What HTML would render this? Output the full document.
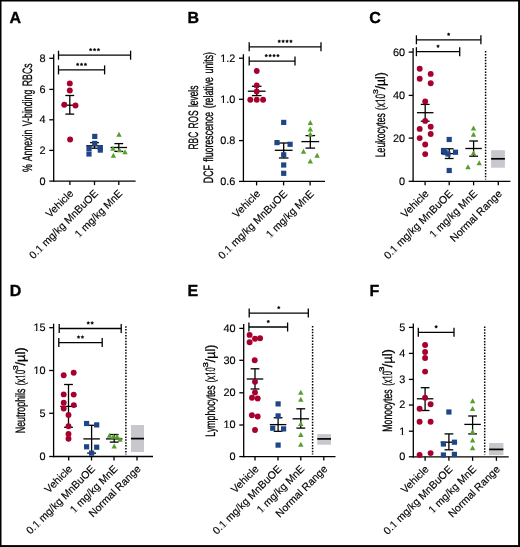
<!DOCTYPE html>
<html><head><meta charset="utf-8"><style>
html,body{margin:0;padding:0;background:#fff;}
svg{display:block;will-change:transform;}
text{font-family:"Liberation Sans",sans-serif;fill:#000;text-rendering:geometricPrecision;}
</style></head><body>
<svg width="520" height="547" viewBox="0 0 520 547">
<rect x="0" y="0" width="520" height="547" fill="#fff"/>
<line x1="53.70" y1="54.20" x2="53.70" y2="181.75" stroke="#000" stroke-width="1.3" />
<line x1="53.05" y1="181.10" x2="135.60" y2="181.10" stroke="#000" stroke-width="1.3" />
<line x1="49.30" y1="181.10" x2="53.70" y2="181.10" stroke="#000" stroke-width="1.3" />
<text x="45.60" y="184.55" font-size="10.9" text-anchor="end" stroke="#000" stroke-width="0.15" >0</text>
<line x1="49.30" y1="150.40" x2="53.70" y2="150.40" stroke="#000" stroke-width="1.3" />
<text x="45.60" y="153.85" font-size="10.9" text-anchor="end" stroke="#000" stroke-width="0.15" >2</text>
<line x1="49.30" y1="119.80" x2="53.70" y2="119.80" stroke="#000" stroke-width="1.3" />
<text x="45.60" y="123.25" font-size="10.9" text-anchor="end" stroke="#000" stroke-width="0.15" >4</text>
<line x1="49.30" y1="89.40" x2="53.70" y2="89.40" stroke="#000" stroke-width="1.3" />
<text x="45.60" y="92.85" font-size="10.9" text-anchor="end" stroke="#000" stroke-width="0.15" >6</text>
<line x1="49.30" y1="58.30" x2="53.70" y2="58.30" stroke="#000" stroke-width="1.3" />
<text x="45.60" y="61.75" font-size="10.9" text-anchor="end" stroke="#000" stroke-width="0.15" >8</text>
<line x1="69.90" y1="181.10" x2="69.90" y2="185.10" stroke="#000" stroke-width="1.3" />
<line x1="94.50" y1="181.10" x2="94.50" y2="185.10" stroke="#000" stroke-width="1.3" />
<line x1="118.80" y1="181.10" x2="118.80" y2="185.10" stroke="#000" stroke-width="1.3" />
<text x="0.00" y="0.00" font-size="10.6" text-anchor="end" transform="translate(74.20,194.10) rotate(-45)" stroke="#000" stroke-width="0.15" >Vehicle</text>
<text x="0.00" y="0.00" font-size="10.6" text-anchor="end" transform="translate(98.80,194.10) rotate(-45)" stroke="#000" stroke-width="0.15" >0.1 mg/kg MnBuOE</text>
<g transform="translate(98.80,194.10) rotate(-45)"><rect x="-83.09" y="-0.91" width="2.03" height="1.11" fill="#fff"/><rect x="-79.99" y="-0.91" width="1.93" height="1.11" fill="#fff"/></g>
<text x="0.00" y="0.00" font-size="10.6" text-anchor="end" transform="translate(123.10,194.10) rotate(-45)" stroke="#000" stroke-width="0.15" >1 mg/kg MnE</text>
<g transform="translate(123.10,194.10) rotate(-45)"><rect x="-61.88" y="-0.91" width="2.03" height="1.11" fill="#fff"/><rect x="-58.78" y="-0.91" width="1.93" height="1.11" fill="#fff"/></g>
<line x1="58.50" y1="55.20" x2="130.60" y2="55.20" stroke="#000" stroke-width="1.3" />
<line x1="58.50" y1="50.70" x2="58.50" y2="59.70" stroke="#000" stroke-width="1.3" />
<line x1="130.60" y1="50.70" x2="130.60" y2="59.70" stroke="#000" stroke-width="1.3" />
<polygon points="90.65,48.15 91.15,49.01 92.12,49.22 91.46,49.96 91.56,50.95 90.65,50.55 89.74,50.95 89.84,49.96 89.18,49.22 90.15,49.01" fill="#000" stroke="#000" stroke-width="0.4" stroke-linejoin="round"/>
<polygon points="94.55,48.15 95.05,49.01 96.02,49.22 95.36,49.96 95.46,50.95 94.55,50.55 93.64,50.95 93.74,49.96 93.08,49.22 94.05,49.01" fill="#000" stroke="#000" stroke-width="0.4" stroke-linejoin="round"/>
<polygon points="98.45,48.15 98.95,49.01 99.92,49.22 99.26,49.96 99.36,50.95 98.45,50.55 97.54,50.95 97.64,49.96 96.98,49.22 97.95,49.01" fill="#000" stroke="#000" stroke-width="0.4" stroke-linejoin="round"/>
<line x1="58.50" y1="69.90" x2="104.60" y2="69.90" stroke="#000" stroke-width="1.3" />
<line x1="58.50" y1="65.40" x2="58.50" y2="74.40" stroke="#000" stroke-width="1.3" />
<line x1="104.60" y1="65.40" x2="104.60" y2="74.40" stroke="#000" stroke-width="1.3" />
<polygon points="77.65,62.85 78.15,63.71 79.12,63.92 78.46,64.66 78.56,65.65 77.65,65.25 76.74,65.65 76.84,64.66 76.18,63.92 77.15,63.71" fill="#000" stroke="#000" stroke-width="0.4" stroke-linejoin="round"/>
<polygon points="81.55,62.85 82.05,63.71 83.02,63.92 82.36,64.66 82.46,65.65 81.55,65.25 80.64,65.65 80.74,64.66 80.08,63.92 81.05,63.71" fill="#000" stroke="#000" stroke-width="0.4" stroke-linejoin="round"/>
<polygon points="85.45,62.85 85.95,63.71 86.92,63.92 86.26,64.66 86.36,65.65 85.45,65.25 84.54,65.65 84.64,64.66 83.98,63.92 84.95,63.71" fill="#000" stroke="#000" stroke-width="0.4" stroke-linejoin="round"/>
<text x="0" y="0" font-size="13.6" text-anchor="middle" textLength="108.70" lengthAdjust="spacingAndGlyphs" word-spacing="1.6" stroke="#000" stroke-width="0.3" transform="translate(31.70,117.75) rotate(-90)">% Annexin V-binding RBCs</text>
<line x1="69.80" y1="95.50" x2="69.80" y2="114.10" stroke="#000" stroke-width="1.3" />
<line x1="65.40" y1="95.50" x2="74.20" y2="95.50" stroke="#000" stroke-width="1.3" />
<line x1="65.40" y1="114.10" x2="74.20" y2="114.10" stroke="#000" stroke-width="1.3" />
<line x1="61.55" y1="105.20" x2="78.05" y2="105.20" stroke="#000" stroke-width="1.3" />
<line x1="94.50" y1="142.60" x2="94.50" y2="148.20" stroke="#000" stroke-width="1.3" />
<line x1="90.10" y1="142.60" x2="98.90" y2="142.60" stroke="#000" stroke-width="1.3" />
<line x1="90.10" y1="148.20" x2="98.90" y2="148.20" stroke="#000" stroke-width="1.3" />
<line x1="86.25" y1="145.80" x2="102.75" y2="145.80" stroke="#000" stroke-width="1.3" />
<line x1="118.80" y1="143.60" x2="118.80" y2="151.40" stroke="#000" stroke-width="1.3" />
<line x1="114.40" y1="143.60" x2="123.20" y2="143.60" stroke="#000" stroke-width="1.3" />
<line x1="114.40" y1="151.40" x2="123.20" y2="151.40" stroke="#000" stroke-width="1.3" />
<line x1="110.55" y1="147.50" x2="127.05" y2="147.50" stroke="#000" stroke-width="1.3" />
<circle cx="69.80" cy="83.40" r="2.95" fill="#a8002e"/>
<circle cx="69.80" cy="90.50" r="2.95" fill="#a8002e"/>
<circle cx="64.30" cy="104.80" r="2.95" fill="#a8002e"/>
<circle cx="75.50" cy="105.50" r="2.95" fill="#a8002e"/>
<circle cx="70.10" cy="139.50" r="2.95" fill="#a8002e"/>
<rect x="92.15" y="133.80" width="5.2" height="5.2" fill="#1f4588"/>
<rect x="92.15" y="140.80" width="5.2" height="5.2" fill="#1f4588"/>
<rect x="86.40" y="145.90" width="5.2" height="5.2" fill="#1f4588"/>
<rect x="86.40" y="151.40" width="5.2" height="5.2" fill="#1f4588"/>
<rect x="97.70" y="145.10" width="5.2" height="5.2" fill="#1f4588"/>
<rect x="97.70" y="147.50" width="5.2" height="5.2" fill="#1f4588"/>
<path d="M119.00 131.75L121.70 136.75L116.30 136.75Z" fill="#55a02a"/>
<path d="M113.00 145.75L115.70 150.75L110.30 150.75Z" fill="#55a02a"/>
<path d="M119.50 147.25L122.20 152.25L116.80 152.25Z" fill="#55a02a"/>
<path d="M125.00 149.25L127.70 154.25L122.30 154.25Z" fill="#55a02a"/>
<path d="M113.40 152.75L116.10 157.75L110.70 157.75Z" fill="#55a02a"/>
<line x1="243.40" y1="54.20" x2="243.40" y2="182.05" stroke="#000" stroke-width="1.3" />
<line x1="242.75" y1="181.40" x2="325.00" y2="181.40" stroke="#000" stroke-width="1.3" />
<line x1="239.00" y1="181.40" x2="243.40" y2="181.40" stroke="#000" stroke-width="1.3" />
<text x="235.30" y="184.85" font-size="10.9" text-anchor="end" stroke="#000" stroke-width="0.15" >0.6</text>
<line x1="239.00" y1="140.60" x2="243.40" y2="140.60" stroke="#000" stroke-width="1.3" />
<text x="235.30" y="144.05" font-size="10.9" text-anchor="end" stroke="#000" stroke-width="0.15" >0.8</text>
<line x1="239.00" y1="99.30" x2="243.40" y2="99.30" stroke="#000" stroke-width="1.3" />
<text x="235.30" y="102.75" font-size="10.9" text-anchor="end" stroke="#000" stroke-width="0.15" >1.0</text>
<rect x="220.73" y="101.82" width="2.09" height="1.14" fill="#fff"/><rect x="223.92" y="101.82" width="1.98" height="1.14" fill="#fff"/>
<line x1="239.00" y1="58.20" x2="243.40" y2="58.20" stroke="#000" stroke-width="1.3" />
<text x="235.30" y="61.65" font-size="10.9" text-anchor="end" stroke="#000" stroke-width="0.15" >1.2</text>
<rect x="220.73" y="60.72" width="2.09" height="1.14" fill="#fff"/><rect x="223.92" y="60.72" width="1.98" height="1.14" fill="#fff"/>
<line x1="256.60" y1="181.40" x2="256.60" y2="185.40" stroke="#000" stroke-width="1.3" />
<line x1="283.60" y1="181.40" x2="283.60" y2="185.40" stroke="#000" stroke-width="1.3" />
<line x1="310.10" y1="181.40" x2="310.10" y2="185.40" stroke="#000" stroke-width="1.3" />
<text x="0.00" y="0.00" font-size="10.6" text-anchor="end" transform="translate(260.90,194.40) rotate(-45)" stroke="#000" stroke-width="0.15" >Vehicle</text>
<text x="0.00" y="0.00" font-size="10.6" text-anchor="end" transform="translate(287.90,194.40) rotate(-45)" stroke="#000" stroke-width="0.15" >0.1 mg/kg MnBuOE</text>
<g transform="translate(287.90,194.40) rotate(-45)"><rect x="-83.09" y="-0.91" width="2.03" height="1.11" fill="#fff"/><rect x="-79.99" y="-0.91" width="1.93" height="1.11" fill="#fff"/></g>
<text x="0.00" y="0.00" font-size="10.6" text-anchor="end" transform="translate(314.40,194.40) rotate(-45)" stroke="#000" stroke-width="0.15" >1 mg/kg MnE</text>
<g transform="translate(314.40,194.40) rotate(-45)"><rect x="-61.88" y="-0.91" width="2.03" height="1.11" fill="#fff"/><rect x="-58.78" y="-0.91" width="1.93" height="1.11" fill="#fff"/></g>
<line x1="249.20" y1="46.80" x2="321.00" y2="46.80" stroke="#000" stroke-width="1.3" />
<line x1="249.20" y1="42.30" x2="249.20" y2="51.30" stroke="#000" stroke-width="1.3" />
<line x1="321.00" y1="42.30" x2="321.00" y2="51.30" stroke="#000" stroke-width="1.3" />
<polygon points="279.25,39.75 279.75,40.61 280.72,40.82 280.06,41.56 280.16,42.55 279.25,42.15 278.34,42.55 278.44,41.56 277.78,40.82 278.75,40.61" fill="#000" stroke="#000" stroke-width="0.4" stroke-linejoin="round"/>
<polygon points="283.15,39.75 283.65,40.61 284.62,40.82 283.96,41.56 284.06,42.55 283.15,42.15 282.24,42.55 282.34,41.56 281.68,40.82 282.65,40.61" fill="#000" stroke="#000" stroke-width="0.4" stroke-linejoin="round"/>
<polygon points="287.05,39.75 287.55,40.61 288.52,40.82 287.86,41.56 287.96,42.55 287.05,42.15 286.14,42.55 286.24,41.56 285.58,40.82 286.55,40.61" fill="#000" stroke="#000" stroke-width="0.4" stroke-linejoin="round"/>
<polygon points="290.95,39.75 291.45,40.61 292.42,40.82 291.76,41.56 291.86,42.55 290.95,42.15 290.04,42.55 290.14,41.56 289.48,40.82 290.45,40.61" fill="#000" stroke="#000" stroke-width="0.4" stroke-linejoin="round"/>
<line x1="249.20" y1="61.10" x2="295.00" y2="61.10" stroke="#000" stroke-width="1.3" />
<line x1="249.20" y1="56.60" x2="249.20" y2="65.60" stroke="#000" stroke-width="1.3" />
<line x1="295.00" y1="56.60" x2="295.00" y2="65.60" stroke="#000" stroke-width="1.3" />
<polygon points="266.25,54.05 266.75,54.91 267.72,55.12 267.06,55.86 267.16,56.85 266.25,56.45 265.34,56.85 265.44,55.86 264.78,55.12 265.75,54.91" fill="#000" stroke="#000" stroke-width="0.4" stroke-linejoin="round"/>
<polygon points="270.15,54.05 270.65,54.91 271.62,55.12 270.96,55.86 271.06,56.85 270.15,56.45 269.24,56.85 269.34,55.86 268.68,55.12 269.65,54.91" fill="#000" stroke="#000" stroke-width="0.4" stroke-linejoin="round"/>
<polygon points="274.05,54.05 274.55,54.91 275.52,55.12 274.86,55.86 274.96,56.85 274.05,56.45 273.14,56.85 273.24,55.86 272.58,55.12 273.55,54.91" fill="#000" stroke="#000" stroke-width="0.4" stroke-linejoin="round"/>
<polygon points="277.95,54.05 278.45,54.91 279.42,55.12 278.76,55.86 278.86,56.85 277.95,56.45 277.04,56.85 277.14,55.86 276.48,55.12 277.45,54.91" fill="#000" stroke="#000" stroke-width="0.4" stroke-linejoin="round"/>
<text x="0" y="0" font-size="13.6" text-anchor="middle" textLength="63.90" lengthAdjust="spacingAndGlyphs" word-spacing="1.6" stroke="#000" stroke-width="0.3" transform="translate(198.00,117.55) rotate(-90)">RBC ROS levels</text>
<text x="0" y="0" font-size="13.6" text-anchor="middle" textLength="131.20" lengthAdjust="spacingAndGlyphs" word-spacing="1.6" stroke="#000" stroke-width="0.3" transform="translate(213.00,117.60) rotate(-90)">DCF fluorescence (relative units)</text>
<line x1="256.70" y1="86.30" x2="256.70" y2="95.60" stroke="#000" stroke-width="1.3" />
<line x1="251.90" y1="86.30" x2="261.50" y2="86.30" stroke="#000" stroke-width="1.3" />
<line x1="251.90" y1="95.60" x2="261.50" y2="95.60" stroke="#000" stroke-width="1.3" />
<line x1="247.80" y1="91.20" x2="265.60" y2="91.20" stroke="#000" stroke-width="1.3" />
<line x1="283.70" y1="143.00" x2="283.70" y2="158.00" stroke="#000" stroke-width="1.3" />
<line x1="278.90" y1="143.00" x2="288.50" y2="143.00" stroke="#000" stroke-width="1.3" />
<line x1="278.90" y1="158.00" x2="288.50" y2="158.00" stroke="#000" stroke-width="1.3" />
<line x1="274.80" y1="150.30" x2="292.60" y2="150.30" stroke="#000" stroke-width="1.3" />
<line x1="310.30" y1="135.60" x2="310.30" y2="148.10" stroke="#000" stroke-width="1.3" />
<line x1="305.50" y1="135.60" x2="315.10" y2="135.60" stroke="#000" stroke-width="1.3" />
<line x1="305.50" y1="148.10" x2="315.10" y2="148.10" stroke="#000" stroke-width="1.3" />
<line x1="301.40" y1="141.60" x2="319.20" y2="141.60" stroke="#000" stroke-width="1.3" />
<circle cx="256.70" cy="71.00" r="2.95" fill="#a8002e"/>
<circle cx="256.70" cy="85.40" r="2.95" fill="#a8002e"/>
<circle cx="256.70" cy="91.50" r="2.95" fill="#a8002e"/>
<circle cx="250.30" cy="99.70" r="2.95" fill="#a8002e"/>
<circle cx="256.70" cy="99.70" r="2.95" fill="#a8002e"/>
<circle cx="263.10" cy="99.70" r="2.95" fill="#a8002e"/>
<rect x="281.10" y="119.80" width="5.2" height="5.2" fill="#1f4588"/>
<rect x="274.40" y="140.00" width="5.2" height="5.2" fill="#1f4588"/>
<rect x="287.50" y="141.70" width="5.2" height="5.2" fill="#1f4588"/>
<rect x="281.10" y="152.20" width="5.2" height="5.2" fill="#1f4588"/>
<rect x="281.10" y="162.40" width="5.2" height="5.2" fill="#1f4588"/>
<rect x="281.10" y="170.70" width="5.2" height="5.2" fill="#1f4588"/>
<path d="M310.30 120.05L313.00 125.05L307.60 125.05Z" fill="#55a02a"/>
<path d="M310.30 126.45L313.00 131.45L307.60 131.45Z" fill="#55a02a"/>
<path d="M310.30 131.55L313.00 136.55L307.60 136.55Z" fill="#55a02a"/>
<path d="M303.50 148.85L306.20 153.85L300.80 153.85Z" fill="#55a02a"/>
<path d="M317.10 152.65L319.80 157.65L314.40 157.65Z" fill="#55a02a"/>
<path d="M310.30 158.45L313.00 163.45L307.60 163.45Z" fill="#55a02a"/>
<line x1="413.10" y1="47.90" x2="413.10" y2="181.95" stroke="#000" stroke-width="1.3" />
<line x1="412.45" y1="181.30" x2="510.40" y2="181.30" stroke="#000" stroke-width="1.3" />
<line x1="408.70" y1="181.30" x2="413.10" y2="181.30" stroke="#000" stroke-width="1.3" />
<text x="405.00" y="184.75" font-size="10.9" text-anchor="end" stroke="#000" stroke-width="0.15" >0</text>
<line x1="408.70" y1="138.10" x2="413.10" y2="138.10" stroke="#000" stroke-width="1.3" />
<text x="405.00" y="141.55" font-size="10.9" text-anchor="end" stroke="#000" stroke-width="0.15" >20</text>
<line x1="408.70" y1="95.40" x2="413.10" y2="95.40" stroke="#000" stroke-width="1.3" />
<text x="405.00" y="98.85" font-size="10.9" text-anchor="end" stroke="#000" stroke-width="0.15" >40</text>
<line x1="408.70" y1="52.10" x2="413.10" y2="52.10" stroke="#000" stroke-width="1.3" />
<text x="405.00" y="55.55" font-size="10.9" text-anchor="end" stroke="#000" stroke-width="0.15" >60</text>
<line x1="425.10" y1="181.30" x2="425.10" y2="185.30" stroke="#000" stroke-width="1.3" />
<line x1="449.20" y1="181.30" x2="449.20" y2="185.30" stroke="#000" stroke-width="1.3" />
<line x1="473.60" y1="181.30" x2="473.60" y2="185.30" stroke="#000" stroke-width="1.3" />
<line x1="498.30" y1="181.30" x2="498.30" y2="185.30" stroke="#000" stroke-width="1.3" />
<text x="0.00" y="0.00" font-size="10.6" text-anchor="end" transform="translate(429.40,194.30) rotate(-45)" stroke="#000" stroke-width="0.15" >Vehicle</text>
<text x="0.00" y="0.00" font-size="10.6" text-anchor="end" transform="translate(453.50,194.30) rotate(-45)" stroke="#000" stroke-width="0.15" >0.1 mg/kg MnBuOE</text>
<g transform="translate(453.50,194.30) rotate(-45)"><rect x="-83.09" y="-0.91" width="2.03" height="1.11" fill="#fff"/><rect x="-79.99" y="-0.91" width="1.93" height="1.11" fill="#fff"/></g>
<text x="0.00" y="0.00" font-size="10.6" text-anchor="end" transform="translate(477.90,194.30) rotate(-45)" stroke="#000" stroke-width="0.15" >1 mg/kg MnE</text>
<g transform="translate(477.90,194.30) rotate(-45)"><rect x="-61.88" y="-0.91" width="2.03" height="1.11" fill="#fff"/><rect x="-58.78" y="-0.91" width="1.93" height="1.11" fill="#fff"/></g>
<text x="0.00" y="0.00" font-size="10.6" text-anchor="end" transform="translate(502.60,194.30) rotate(-45)" stroke="#000" stroke-width="0.15" >Normal Range</text>
<line x1="416.40" y1="39.80" x2="480.90" y2="39.80" stroke="#000" stroke-width="1.3" />
<line x1="416.40" y1="35.30" x2="416.40" y2="44.30" stroke="#000" stroke-width="1.3" />
<line x1="480.90" y1="35.30" x2="480.90" y2="44.30" stroke="#000" stroke-width="1.3" />
<polygon points="448.65,32.75 449.15,33.61 450.12,33.82 449.46,34.56 449.56,35.55 448.65,35.15 447.74,35.55 447.84,34.56 447.18,33.82 448.15,33.61" fill="#000" stroke="#000" stroke-width="0.4" stroke-linejoin="round"/>
<line x1="416.40" y1="51.70" x2="459.70" y2="51.70" stroke="#000" stroke-width="1.3" />
<line x1="416.40" y1="47.20" x2="416.40" y2="56.20" stroke="#000" stroke-width="1.3" />
<line x1="459.70" y1="47.20" x2="459.70" y2="56.20" stroke="#000" stroke-width="1.3" />
<polygon points="438.05,44.65 438.55,45.51 439.52,45.72 438.86,46.46 438.96,47.45 438.05,47.05 437.14,47.45 437.24,46.46 436.58,45.72 437.55,45.51" fill="#000" stroke="#000" stroke-width="0.4" stroke-linejoin="round"/>
<line x1="485.60" y1="51.10" x2="485.60" y2="179.40" stroke="#000" stroke-width="1.5" stroke-dasharray="1.5 1.4"/>
<rect x="491.1" y="150.2" width="13.80" height="17.50" fill="#c8c7cd"/>
<line x1="491.10" y1="158.80" x2="504.90" y2="158.80" stroke="#000" stroke-width="1.7" />
<text x="0" y="0" font-size="13.6" textLength="44.30" lengthAdjust="spacingAndGlyphs" stroke="#000" stroke-width="0.3" transform="translate(385.30,157.35) rotate(-90)">Leukocytes</text>
<text x="0" y="0" font-size="13.6" textLength="16.10" lengthAdjust="spacingAndGlyphs" stroke="#000" stroke-width="0.3" transform="translate(385.30,109.95) rotate(-90)">(x10</text>
<g transform="translate(385.30,109.95) rotate(-90)"><rect x="7.30" y="-1.23" width="1.60" height="1.53" fill="#fff"/><rect x="9.79" y="-1.23" width="1.51" height="1.53" fill="#fff"/></g>
<text x="0" y="0" font-size="6.8" textLength="4.80" lengthAdjust="spacingAndGlyphs" stroke="#000" stroke-width="0.3" transform="translate(378.00,93.95) rotate(-90)">3</text>
<text x="0" y="0" font-size="13.6" textLength="17.10" lengthAdjust="spacingAndGlyphs" stroke="#000" stroke-width="0.3" transform="translate(385.30,89.25) rotate(-90)">/µl)</text>
<line x1="425.20" y1="104.40" x2="425.20" y2="121.20" stroke="#000" stroke-width="1.3" />
<line x1="420.80" y1="104.40" x2="429.60" y2="104.40" stroke="#000" stroke-width="1.3" />
<line x1="420.80" y1="121.20" x2="429.60" y2="121.20" stroke="#000" stroke-width="1.3" />
<line x1="416.95" y1="112.70" x2="433.45" y2="112.70" stroke="#000" stroke-width="1.3" />
<line x1="449.20" y1="148.80" x2="449.20" y2="158.50" stroke="#000" stroke-width="1.3" />
<line x1="444.80" y1="148.80" x2="453.60" y2="148.80" stroke="#000" stroke-width="1.3" />
<line x1="444.80" y1="158.50" x2="453.60" y2="158.50" stroke="#000" stroke-width="1.3" />
<line x1="440.95" y1="153.60" x2="457.45" y2="153.60" stroke="#000" stroke-width="1.3" />
<line x1="473.60" y1="141.00" x2="473.60" y2="156.20" stroke="#000" stroke-width="1.3" />
<line x1="469.20" y1="141.00" x2="478.00" y2="141.00" stroke="#000" stroke-width="1.3" />
<line x1="469.20" y1="156.20" x2="478.00" y2="156.20" stroke="#000" stroke-width="1.3" />
<line x1="465.35" y1="148.50" x2="481.85" y2="148.50" stroke="#000" stroke-width="1.3" />
<circle cx="419.70" cy="68.80" r="2.95" fill="#a8002e"/>
<circle cx="419.70" cy="78.80" r="2.95" fill="#a8002e"/>
<circle cx="430.70" cy="73.90" r="2.95" fill="#a8002e"/>
<circle cx="430.70" cy="83.20" r="2.95" fill="#a8002e"/>
<circle cx="425.20" cy="101.50" r="2.95" fill="#a8002e"/>
<circle cx="425.20" cy="120.90" r="2.95" fill="#a8002e"/>
<circle cx="419.70" cy="128.90" r="2.95" fill="#a8002e"/>
<circle cx="430.70" cy="126.70" r="2.95" fill="#a8002e"/>
<circle cx="419.70" cy="138.10" r="2.95" fill="#a8002e"/>
<circle cx="430.70" cy="134.00" r="2.95" fill="#a8002e"/>
<circle cx="425.20" cy="144.50" r="2.95" fill="#a8002e"/>
<circle cx="425.20" cy="154.10" r="2.95" fill="#a8002e"/>
<rect x="446.60" y="136.90" width="5.2" height="5.2" fill="#1f4588"/>
<rect x="440.90" y="147.90" width="5.2" height="5.2" fill="#1f4588"/>
<rect x="442.40" y="149.90" width="5.2" height="5.2" fill="#1f4588"/>
<rect x="445.40" y="151.40" width="5.2" height="5.2" fill="#1f4588"/>
<rect x="452.90" y="149.60" width="5.2" height="5.2" fill="#1f4588"/>
<rect x="446.60" y="167.90" width="5.2" height="5.2" fill="#1f4588"/>
<path d="M473.50 125.45L476.20 130.45L470.80 130.45Z" fill="#55a02a"/>
<path d="M473.50 131.65L476.20 136.65L470.80 136.65Z" fill="#55a02a"/>
<path d="M473.50 150.25L476.20 155.25L470.80 155.25Z" fill="#55a02a"/>
<path d="M468.00 164.25L470.70 169.25L465.30 169.25Z" fill="#55a02a"/>
<path d="M479.20 160.25L481.90 165.25L476.50 165.25Z" fill="#55a02a"/>
<line x1="53.60" y1="323.70" x2="53.60" y2="457.15" stroke="#000" stroke-width="1.3" />
<line x1="52.95" y1="456.50" x2="153.00" y2="456.50" stroke="#000" stroke-width="1.3" />
<line x1="49.20" y1="456.50" x2="53.60" y2="456.50" stroke="#000" stroke-width="1.3" />
<text x="45.50" y="459.95" font-size="10.9" text-anchor="end" stroke="#000" stroke-width="0.15" >0</text>
<line x1="49.20" y1="413.30" x2="53.60" y2="413.30" stroke="#000" stroke-width="1.3" />
<text x="45.50" y="416.75" font-size="10.9" text-anchor="end" stroke="#000" stroke-width="0.15" >5</text>
<line x1="49.20" y1="370.50" x2="53.60" y2="370.50" stroke="#000" stroke-width="1.3" />
<text x="45.50" y="373.95" font-size="10.9" text-anchor="end" stroke="#000" stroke-width="0.15" >10</text>
<rect x="33.96" y="373.02" width="2.09" height="1.14" fill="#fff"/><rect x="37.14" y="373.02" width="1.98" height="1.14" fill="#fff"/>
<line x1="49.20" y1="327.70" x2="53.60" y2="327.70" stroke="#000" stroke-width="1.3" />
<text x="45.50" y="331.15" font-size="10.9" text-anchor="end" stroke="#000" stroke-width="0.15" >15</text>
<rect x="33.96" y="330.22" width="2.09" height="1.14" fill="#fff"/><rect x="37.14" y="330.22" width="1.98" height="1.14" fill="#fff"/>
<line x1="68.70" y1="456.50" x2="68.70" y2="460.50" stroke="#000" stroke-width="1.3" />
<line x1="91.50" y1="456.50" x2="91.50" y2="460.50" stroke="#000" stroke-width="1.3" />
<line x1="114.00" y1="456.50" x2="114.00" y2="460.50" stroke="#000" stroke-width="1.3" />
<line x1="137.00" y1="456.50" x2="137.00" y2="460.50" stroke="#000" stroke-width="1.3" />
<text x="0.00" y="0.00" font-size="10.6" text-anchor="end" transform="translate(73.00,469.50) rotate(-45)" stroke="#000" stroke-width="0.15" >Vehicle</text>
<text x="0.00" y="0.00" font-size="10.6" text-anchor="end" transform="translate(95.80,469.50) rotate(-45)" stroke="#000" stroke-width="0.15" >0.1 mg/kg MnBuOE</text>
<g transform="translate(95.80,469.50) rotate(-45)"><rect x="-83.09" y="-0.91" width="2.03" height="1.11" fill="#fff"/><rect x="-79.99" y="-0.91" width="1.93" height="1.11" fill="#fff"/></g>
<text x="0.00" y="0.00" font-size="10.6" text-anchor="end" transform="translate(118.30,469.50) rotate(-45)" stroke="#000" stroke-width="0.15" >1 mg/kg MnE</text>
<g transform="translate(118.30,469.50) rotate(-45)"><rect x="-61.88" y="-0.91" width="2.03" height="1.11" fill="#fff"/><rect x="-58.78" y="-0.91" width="1.93" height="1.11" fill="#fff"/></g>
<text x="0.00" y="0.00" font-size="10.6" text-anchor="end" transform="translate(141.30,469.50) rotate(-45)" stroke="#000" stroke-width="0.15" >Normal Range</text>
<line x1="59.20" y1="328.50" x2="121.20" y2="328.50" stroke="#000" stroke-width="1.3" />
<line x1="59.20" y1="324.00" x2="59.20" y2="333.00" stroke="#000" stroke-width="1.3" />
<line x1="121.20" y1="324.00" x2="121.20" y2="333.00" stroke="#000" stroke-width="1.3" />
<polygon points="88.25,321.45 88.75,322.31 89.72,322.52 89.06,323.26 89.16,324.25 88.25,323.85 87.34,324.25 87.44,323.26 86.78,322.52 87.75,322.31" fill="#000" stroke="#000" stroke-width="0.4" stroke-linejoin="round"/>
<polygon points="92.15,321.45 92.65,322.31 93.62,322.52 92.96,323.26 93.06,324.25 92.15,323.85 91.24,324.25 91.34,323.26 90.68,322.52 91.65,322.31" fill="#000" stroke="#000" stroke-width="0.4" stroke-linejoin="round"/>
<line x1="58.80" y1="342.60" x2="102.20" y2="342.60" stroke="#000" stroke-width="1.3" />
<line x1="58.80" y1="338.10" x2="58.80" y2="347.10" stroke="#000" stroke-width="1.3" />
<line x1="102.20" y1="338.10" x2="102.20" y2="347.10" stroke="#000" stroke-width="1.3" />
<polygon points="78.55,335.55 79.05,336.41 80.02,336.62 79.36,337.36 79.46,338.35 78.55,337.95 77.64,338.35 77.74,337.36 77.08,336.62 78.05,336.41" fill="#000" stroke="#000" stroke-width="0.4" stroke-linejoin="round"/>
<polygon points="82.45,335.55 82.95,336.41 83.92,336.62 83.26,337.36 83.36,338.35 82.45,337.95 81.54,338.35 81.64,337.36 80.98,336.62 81.95,336.41" fill="#000" stroke="#000" stroke-width="0.4" stroke-linejoin="round"/>
<line x1="125.90" y1="326.20" x2="125.90" y2="454.50" stroke="#000" stroke-width="1.5" stroke-dasharray="1.5 1.4"/>
<rect x="131" y="425" width="13.00" height="27.00" fill="#c8c7cd"/>
<line x1="131.00" y1="438.60" x2="144.00" y2="438.60" stroke="#000" stroke-width="1.7" />
<text x="0" y="0" font-size="13.6" textLength="44.70" lengthAdjust="spacingAndGlyphs" stroke="#000" stroke-width="0.3" transform="translate(25.00,433.25) rotate(-90)">Neutrophils</text>
<text x="0" y="0" font-size="13.6" textLength="15.60" lengthAdjust="spacingAndGlyphs" stroke="#000" stroke-width="0.3" transform="translate(25.00,385.35) rotate(-90)">(x10</text>
<g transform="translate(25.00,385.35) rotate(-90)"><rect x="7.07" y="-1.23" width="1.55" height="1.53" fill="#fff"/><rect x="9.48" y="-1.23" width="1.46" height="1.53" fill="#fff"/></g>
<text x="0" y="0" font-size="6.8" textLength="5.00" lengthAdjust="spacingAndGlyphs" stroke="#000" stroke-width="0.3" transform="translate(17.70,370.35) rotate(-90)">3</text>
<text x="0" y="0" font-size="13.6" textLength="18.10" lengthAdjust="spacingAndGlyphs" stroke="#000" stroke-width="0.3" transform="translate(25.00,365.55) rotate(-90)">/µl)</text>
<line x1="68.50" y1="384.50" x2="68.50" y2="427.30" stroke="#000" stroke-width="1.3" />
<line x1="64.10" y1="384.50" x2="72.90" y2="384.50" stroke="#000" stroke-width="1.3" />
<line x1="64.10" y1="427.30" x2="72.90" y2="427.30" stroke="#000" stroke-width="1.3" />
<line x1="60.25" y1="406.40" x2="76.75" y2="406.40" stroke="#000" stroke-width="1.3" />
<line x1="91.60" y1="425.30" x2="91.60" y2="453.10" stroke="#000" stroke-width="1.3" />
<line x1="87.20" y1="425.30" x2="96.00" y2="425.30" stroke="#000" stroke-width="1.3" />
<line x1="87.20" y1="453.10" x2="96.00" y2="453.10" stroke="#000" stroke-width="1.3" />
<line x1="83.35" y1="438.90" x2="99.85" y2="438.90" stroke="#000" stroke-width="1.3" />
<line x1="114.20" y1="434.50" x2="114.20" y2="442.10" stroke="#000" stroke-width="1.3" />
<line x1="109.80" y1="434.50" x2="118.60" y2="434.50" stroke="#000" stroke-width="1.3" />
<line x1="109.80" y1="442.10" x2="118.60" y2="442.10" stroke="#000" stroke-width="1.3" />
<line x1="105.95" y1="438.90" x2="122.45" y2="438.90" stroke="#000" stroke-width="1.3" />
<circle cx="73.70" cy="372.70" r="2.95" fill="#a8002e"/>
<circle cx="63.70" cy="375.20" r="2.95" fill="#a8002e"/>
<circle cx="63.70" cy="394.40" r="2.95" fill="#a8002e"/>
<circle cx="73.70" cy="394.60" r="2.95" fill="#a8002e"/>
<circle cx="63.70" cy="402.80" r="2.95" fill="#a8002e"/>
<circle cx="73.80" cy="405.10" r="2.95" fill="#a8002e"/>
<circle cx="63.70" cy="408.50" r="2.95" fill="#a8002e"/>
<circle cx="68.50" cy="414.90" r="2.95" fill="#a8002e"/>
<circle cx="68.50" cy="426.20" r="2.95" fill="#a8002e"/>
<circle cx="68.50" cy="434.00" r="2.95" fill="#a8002e"/>
<circle cx="68.50" cy="438.70" r="2.95" fill="#a8002e"/>
<rect x="84.00" y="420.90" width="5.2" height="5.2" fill="#1f4588"/>
<rect x="94.10" y="422.30" width="5.2" height="5.2" fill="#1f4588"/>
<rect x="84.00" y="444.20" width="5.2" height="5.2" fill="#1f4588"/>
<rect x="94.10" y="444.60" width="5.2" height="5.2" fill="#1f4588"/>
<rect x="89.00" y="450.50" width="5.2" height="5.2" fill="#1f4588"/>
<path d="M109.50 432.75L112.20 437.75L106.80 437.75Z" fill="#55a02a"/>
<path d="M113.50 433.75L116.20 438.75L110.80 438.75Z" fill="#55a02a"/>
<path d="M117.00 433.75L119.70 438.75L114.30 438.75Z" fill="#55a02a"/>
<path d="M120.00 436.75L122.70 441.75L117.30 441.75Z" fill="#55a02a"/>
<path d="M114.20 443.45L116.90 448.45L111.50 448.45Z" fill="#55a02a"/>
<line x1="243.70" y1="324.00" x2="243.70" y2="457.25" stroke="#000" stroke-width="1.3" />
<line x1="243.05" y1="456.60" x2="335.50" y2="456.60" stroke="#000" stroke-width="1.3" />
<line x1="239.30" y1="456.60" x2="243.70" y2="456.60" stroke="#000" stroke-width="1.3" />
<text x="235.60" y="460.05" font-size="10.9" text-anchor="end" stroke="#000" stroke-width="0.15" >0</text>
<line x1="239.30" y1="425.00" x2="243.70" y2="425.00" stroke="#000" stroke-width="1.3" />
<text x="235.60" y="428.45" font-size="10.9" text-anchor="end" stroke="#000" stroke-width="0.15" >10</text>
<rect x="224.06" y="427.52" width="2.09" height="1.14" fill="#fff"/><rect x="227.24" y="427.52" width="1.98" height="1.14" fill="#fff"/>
<line x1="239.30" y1="392.80" x2="243.70" y2="392.80" stroke="#000" stroke-width="1.3" />
<text x="235.60" y="396.25" font-size="10.9" text-anchor="end" stroke="#000" stroke-width="0.15" >20</text>
<line x1="239.30" y1="360.30" x2="243.70" y2="360.30" stroke="#000" stroke-width="1.3" />
<text x="235.60" y="363.75" font-size="10.9" text-anchor="end" stroke="#000" stroke-width="0.15" >30</text>
<line x1="239.30" y1="328.40" x2="243.70" y2="328.40" stroke="#000" stroke-width="1.3" />
<text x="235.60" y="331.85" font-size="10.9" text-anchor="end" stroke="#000" stroke-width="0.15" >40</text>
<line x1="255.00" y1="456.60" x2="255.00" y2="460.60" stroke="#000" stroke-width="1.3" />
<line x1="278.00" y1="456.60" x2="278.00" y2="460.60" stroke="#000" stroke-width="1.3" />
<line x1="300.80" y1="456.60" x2="300.80" y2="460.60" stroke="#000" stroke-width="1.3" />
<line x1="323.80" y1="456.60" x2="323.80" y2="460.60" stroke="#000" stroke-width="1.3" />
<text x="0.00" y="0.00" font-size="10.6" text-anchor="end" transform="translate(259.30,469.60) rotate(-45)" stroke="#000" stroke-width="0.15" >Vehicle</text>
<text x="0.00" y="0.00" font-size="10.6" text-anchor="end" transform="translate(282.30,469.60) rotate(-45)" stroke="#000" stroke-width="0.15" >0.1 mg/kg MnBuOE</text>
<g transform="translate(282.30,469.60) rotate(-45)"><rect x="-83.09" y="-0.91" width="2.03" height="1.11" fill="#fff"/><rect x="-79.99" y="-0.91" width="1.93" height="1.11" fill="#fff"/></g>
<text x="0.00" y="0.00" font-size="10.6" text-anchor="end" transform="translate(305.10,469.60) rotate(-45)" stroke="#000" stroke-width="0.15" >1 mg/kg MnE</text>
<g transform="translate(305.10,469.60) rotate(-45)"><rect x="-61.88" y="-0.91" width="2.03" height="1.11" fill="#fff"/><rect x="-58.78" y="-0.91" width="1.93" height="1.11" fill="#fff"/></g>
<text x="0.00" y="0.00" font-size="10.6" text-anchor="end" transform="translate(328.10,469.60) rotate(-45)" stroke="#000" stroke-width="0.15" >Normal Range</text>
<line x1="249.20" y1="313.10" x2="308.30" y2="313.10" stroke="#000" stroke-width="1.3" />
<line x1="249.20" y1="308.60" x2="249.20" y2="317.60" stroke="#000" stroke-width="1.3" />
<line x1="308.30" y1="308.60" x2="308.30" y2="317.60" stroke="#000" stroke-width="1.3" />
<polygon points="278.75,306.05 279.25,306.91 280.22,307.12 279.56,307.86 279.66,308.85 278.75,308.45 277.84,308.85 277.94,307.86 277.28,307.12 278.25,306.91" fill="#000" stroke="#000" stroke-width="0.4" stroke-linejoin="round"/>
<line x1="248.90" y1="327.00" x2="287.60" y2="327.00" stroke="#000" stroke-width="1.3" />
<line x1="248.90" y1="322.50" x2="248.90" y2="331.50" stroke="#000" stroke-width="1.3" />
<line x1="287.60" y1="322.50" x2="287.60" y2="331.50" stroke="#000" stroke-width="1.3" />
<polygon points="268.25,319.95 268.75,320.81 269.72,321.02 269.06,321.76 269.16,322.75 268.25,322.35 267.34,322.75 267.44,321.76 266.78,321.02 267.75,320.81" fill="#000" stroke="#000" stroke-width="0.4" stroke-linejoin="round"/>
<line x1="312.60" y1="326.00" x2="312.60" y2="454.50" stroke="#000" stroke-width="1.5" stroke-dasharray="1.5 1.4"/>
<rect x="317.3" y="434.1" width="13.70" height="10.60" fill="#c8c7cd"/>
<line x1="317.30" y1="438.90" x2="331.00" y2="438.90" stroke="#000" stroke-width="1.7" />
<text x="0" y="0" font-size="13.6" textLength="51.20" lengthAdjust="spacingAndGlyphs" stroke="#000" stroke-width="0.3" transform="translate(215.00,436.65) rotate(-90)">Lymphocytes</text>
<text x="0" y="0" font-size="13.6" textLength="15.10" lengthAdjust="spacingAndGlyphs" stroke="#000" stroke-width="0.3" transform="translate(215.00,382.25) rotate(-90)">(x10</text>
<g transform="translate(215.00,382.25) rotate(-90)"><rect x="6.85" y="-1.23" width="1.50" height="1.53" fill="#fff"/><rect x="9.18" y="-1.23" width="1.42" height="1.53" fill="#fff"/></g>
<text x="0" y="0" font-size="6.8" textLength="5.40" lengthAdjust="spacingAndGlyphs" stroke="#000" stroke-width="0.3" transform="translate(207.70,367.55) rotate(-90)">3</text>
<text x="0" y="0" font-size="13.6" textLength="17.40" lengthAdjust="spacingAndGlyphs" stroke="#000" stroke-width="0.3" transform="translate(215.00,362.15) rotate(-90)">/µl)</text>
<line x1="255.00" y1="368.80" x2="255.00" y2="389.00" stroke="#000" stroke-width="1.3" />
<line x1="250.60" y1="368.80" x2="259.40" y2="368.80" stroke="#000" stroke-width="1.3" />
<line x1="250.60" y1="389.00" x2="259.40" y2="389.00" stroke="#000" stroke-width="1.3" />
<line x1="246.75" y1="379.00" x2="263.25" y2="379.00" stroke="#000" stroke-width="1.3" />
<line x1="278.10" y1="417.70" x2="278.10" y2="431.30" stroke="#000" stroke-width="1.3" />
<line x1="273.70" y1="417.70" x2="282.50" y2="417.70" stroke="#000" stroke-width="1.3" />
<line x1="273.70" y1="431.30" x2="282.50" y2="431.30" stroke="#000" stroke-width="1.3" />
<line x1="269.85" y1="424.60" x2="286.35" y2="424.60" stroke="#000" stroke-width="1.3" />
<line x1="300.80" y1="408.80" x2="300.80" y2="428.10" stroke="#000" stroke-width="1.3" />
<line x1="296.40" y1="408.80" x2="305.20" y2="408.80" stroke="#000" stroke-width="1.3" />
<line x1="296.40" y1="428.10" x2="305.20" y2="428.10" stroke="#000" stroke-width="1.3" />
<line x1="292.55" y1="418.80" x2="309.05" y2="418.80" stroke="#000" stroke-width="1.3" />
<circle cx="249.60" cy="334.90" r="2.95" fill="#a8002e"/>
<circle cx="249.60" cy="342.30" r="2.95" fill="#a8002e"/>
<circle cx="255.00" cy="338.70" r="2.95" fill="#a8002e"/>
<circle cx="260.10" cy="338.30" r="2.95" fill="#a8002e"/>
<circle cx="254.70" cy="360.30" r="2.95" fill="#a8002e"/>
<circle cx="255.00" cy="381.80" r="2.95" fill="#a8002e"/>
<circle cx="255.00" cy="392.50" r="2.95" fill="#a8002e"/>
<circle cx="252.00" cy="397.70" r="2.95" fill="#a8002e"/>
<circle cx="257.70" cy="398.50" r="2.95" fill="#a8002e"/>
<circle cx="251.90" cy="415.20" r="2.95" fill="#a8002e"/>
<circle cx="257.70" cy="416.50" r="2.95" fill="#a8002e"/>
<circle cx="255.00" cy="430.00" r="2.95" fill="#a8002e"/>
<rect x="275.50" y="401.30" width="5.2" height="5.2" fill="#1f4588"/>
<rect x="275.50" y="413.30" width="5.2" height="5.2" fill="#1f4588"/>
<rect x="270.10" y="425.60" width="5.2" height="5.2" fill="#1f4588"/>
<rect x="281.00" y="426.30" width="5.2" height="5.2" fill="#1f4588"/>
<rect x="275.50" y="442.50" width="5.2" height="5.2" fill="#1f4588"/>
<path d="M300.80 389.75L303.50 394.75L298.10 394.75Z" fill="#55a02a"/>
<path d="M300.80 396.85L303.50 401.85L298.10 401.85Z" fill="#55a02a"/>
<path d="M300.80 421.05L303.50 426.05L298.10 426.05Z" fill="#55a02a"/>
<path d="M300.80 432.05L303.50 437.05L298.10 437.05Z" fill="#55a02a"/>
<path d="M300.80 441.65L303.50 446.65L298.10 446.65Z" fill="#55a02a"/>
<line x1="413.30" y1="323.50" x2="413.30" y2="457.45" stroke="#000" stroke-width="1.3" />
<line x1="412.65" y1="456.80" x2="508.70" y2="456.80" stroke="#000" stroke-width="1.3" />
<line x1="408.90" y1="456.80" x2="413.30" y2="456.80" stroke="#000" stroke-width="1.3" />
<text x="405.20" y="460.25" font-size="10.9" text-anchor="end" stroke="#000" stroke-width="0.15" >0</text>
<line x1="408.90" y1="431.20" x2="413.30" y2="431.20" stroke="#000" stroke-width="1.3" />
<text x="405.20" y="434.65" font-size="10.9" text-anchor="end" stroke="#000" stroke-width="0.15" >1</text>
<rect x="399.72" y="433.72" width="2.09" height="1.14" fill="#fff"/><rect x="402.91" y="433.72" width="1.98" height="1.14" fill="#fff"/>
<line x1="408.90" y1="405.00" x2="413.30" y2="405.00" stroke="#000" stroke-width="1.3" />
<text x="405.20" y="408.45" font-size="10.9" text-anchor="end" stroke="#000" stroke-width="0.15" >2</text>
<line x1="408.90" y1="379.40" x2="413.30" y2="379.40" stroke="#000" stroke-width="1.3" />
<text x="405.20" y="382.85" font-size="10.9" text-anchor="end" stroke="#000" stroke-width="0.15" >3</text>
<line x1="408.90" y1="353.40" x2="413.30" y2="353.40" stroke="#000" stroke-width="1.3" />
<text x="405.20" y="356.85" font-size="10.9" text-anchor="end" stroke="#000" stroke-width="0.15" >4</text>
<line x1="408.90" y1="327.40" x2="413.30" y2="327.40" stroke="#000" stroke-width="1.3" />
<text x="405.20" y="330.85" font-size="10.9" text-anchor="end" stroke="#000" stroke-width="0.15" >5</text>
<line x1="425.10" y1="456.80" x2="425.10" y2="460.80" stroke="#000" stroke-width="1.3" />
<line x1="448.90" y1="456.80" x2="448.90" y2="460.80" stroke="#000" stroke-width="1.3" />
<line x1="472.60" y1="456.80" x2="472.60" y2="460.80" stroke="#000" stroke-width="1.3" />
<line x1="496.40" y1="456.80" x2="496.40" y2="460.80" stroke="#000" stroke-width="1.3" />
<text x="0.00" y="0.00" font-size="10.6" text-anchor="end" transform="translate(429.40,469.80) rotate(-45)" stroke="#000" stroke-width="0.15" >Vehicle</text>
<text x="0.00" y="0.00" font-size="10.6" text-anchor="end" transform="translate(453.20,469.80) rotate(-45)" stroke="#000" stroke-width="0.15" >0.1 mg/kg MnBuOE</text>
<g transform="translate(453.20,469.80) rotate(-45)"><rect x="-83.09" y="-0.91" width="2.03" height="1.11" fill="#fff"/><rect x="-79.99" y="-0.91" width="1.93" height="1.11" fill="#fff"/></g>
<text x="0.00" y="0.00" font-size="10.6" text-anchor="end" transform="translate(476.90,469.80) rotate(-45)" stroke="#000" stroke-width="0.15" >1 mg/kg MnE</text>
<g transform="translate(476.90,469.80) rotate(-45)"><rect x="-61.88" y="-0.91" width="2.03" height="1.11" fill="#fff"/><rect x="-58.78" y="-0.91" width="1.93" height="1.11" fill="#fff"/></g>
<text x="0.00" y="0.00" font-size="10.6" text-anchor="end" transform="translate(500.70,469.80) rotate(-45)" stroke="#000" stroke-width="0.15" >Normal Range</text>
<line x1="418.30" y1="332.30" x2="454.00" y2="332.30" stroke="#000" stroke-width="1.3" />
<line x1="418.30" y1="327.80" x2="418.30" y2="336.80" stroke="#000" stroke-width="1.3" />
<line x1="454.00" y1="327.80" x2="454.00" y2="336.80" stroke="#000" stroke-width="1.3" />
<polygon points="436.15,325.25 436.65,326.11 437.62,326.32 436.96,327.06 437.06,328.05 436.15,327.65 435.24,328.05 435.34,327.06 434.68,326.32 435.65,326.11" fill="#000" stroke="#000" stroke-width="0.4" stroke-linejoin="round"/>
<line x1="484.70" y1="326.40" x2="484.70" y2="454.50" stroke="#000" stroke-width="1.5" stroke-dasharray="1.5 1.4"/>
<rect x="489.1" y="443" width="14.30" height="12.20" fill="#c8c7cd"/>
<line x1="489.10" y1="449.40" x2="503.40" y2="449.40" stroke="#000" stroke-width="1.7" />
<text x="0" y="0" font-size="13.6" textLength="42.40" lengthAdjust="spacingAndGlyphs" stroke="#000" stroke-width="0.3" transform="translate(391.50,431.75) rotate(-90)">Monocytes</text>
<text x="0" y="0" font-size="13.6" textLength="14.60" lengthAdjust="spacingAndGlyphs" stroke="#000" stroke-width="0.3" transform="translate(391.50,385.65) rotate(-90)">(x10</text>
<g transform="translate(391.50,385.65) rotate(-90)"><rect x="6.62" y="-1.23" width="1.45" height="1.53" fill="#fff"/><rect x="8.88" y="-1.23" width="1.37" height="1.53" fill="#fff"/></g>
<text x="0" y="0" font-size="6.8" textLength="5.50" lengthAdjust="spacingAndGlyphs" stroke="#000" stroke-width="0.3" transform="translate(384.20,371.95) rotate(-90)">3</text>
<text x="0" y="0" font-size="13.6" textLength="18.20" lengthAdjust="spacingAndGlyphs" stroke="#000" stroke-width="0.3" transform="translate(391.50,367.35) rotate(-90)">/µl)</text>
<line x1="425.10" y1="387.70" x2="425.10" y2="410.50" stroke="#000" stroke-width="1.3" />
<line x1="420.70" y1="387.70" x2="429.50" y2="387.70" stroke="#000" stroke-width="1.3" />
<line x1="420.70" y1="410.50" x2="429.50" y2="410.50" stroke="#000" stroke-width="1.3" />
<line x1="416.85" y1="398.80" x2="433.35" y2="398.80" stroke="#000" stroke-width="1.3" />
<line x1="448.90" y1="433.90" x2="448.90" y2="449.80" stroke="#000" stroke-width="1.3" />
<line x1="444.50" y1="433.90" x2="453.30" y2="433.90" stroke="#000" stroke-width="1.3" />
<line x1="444.50" y1="449.80" x2="453.30" y2="449.80" stroke="#000" stroke-width="1.3" />
<line x1="440.65" y1="442.20" x2="457.15" y2="442.20" stroke="#000" stroke-width="1.3" />
<line x1="472.60" y1="416.00" x2="472.60" y2="433.90" stroke="#000" stroke-width="1.3" />
<line x1="468.20" y1="416.00" x2="477.00" y2="416.00" stroke="#000" stroke-width="1.3" />
<line x1="468.20" y1="433.90" x2="477.00" y2="433.90" stroke="#000" stroke-width="1.3" />
<line x1="464.35" y1="424.40" x2="480.85" y2="424.40" stroke="#000" stroke-width="1.3" />
<circle cx="425.10" cy="345.00" r="2.95" fill="#a8002e"/>
<circle cx="425.10" cy="352.00" r="2.95" fill="#a8002e"/>
<circle cx="425.10" cy="358.00" r="2.95" fill="#a8002e"/>
<circle cx="425.10" cy="371.60" r="2.95" fill="#a8002e"/>
<circle cx="425.10" cy="397.70" r="2.95" fill="#a8002e"/>
<circle cx="430.60" cy="404.30" r="2.95" fill="#a8002e"/>
<circle cx="419.60" cy="408.70" r="2.95" fill="#a8002e"/>
<circle cx="419.60" cy="421.70" r="2.95" fill="#a8002e"/>
<circle cx="430.60" cy="421.70" r="2.95" fill="#a8002e"/>
<circle cx="419.60" cy="455.00" r="2.95" fill="#a8002e"/>
<circle cx="430.60" cy="453.10" r="2.95" fill="#a8002e"/>
<rect x="446.30" y="409.40" width="5.2" height="5.2" fill="#1f4588"/>
<rect x="440.80" y="441.40" width="5.2" height="5.2" fill="#1f4588"/>
<rect x="451.80" y="439.60" width="5.2" height="5.2" fill="#1f4588"/>
<rect x="440.80" y="452.40" width="5.2" height="5.2" fill="#1f4588"/>
<rect x="451.80" y="451.80" width="5.2" height="5.2" fill="#1f4588"/>
<path d="M472.60 398.25L475.30 403.25L469.90 403.25Z" fill="#55a02a"/>
<path d="M472.60 405.95L475.30 410.95L469.90 410.95Z" fill="#55a02a"/>
<path d="M472.60 428.95L475.30 433.95L469.90 433.95Z" fill="#55a02a"/>
<path d="M472.60 437.55L475.30 442.55L469.90 442.55Z" fill="#55a02a"/>
<path d="M472.60 445.25L475.30 450.25L469.90 450.25Z" fill="#55a02a"/>
<text x="9.40" y="22.80" font-size="16" font-weight="bold" stroke="#000" stroke-width="0.35">A</text>
<text x="187.40" y="22.80" font-size="16" font-weight="bold" stroke="#000" stroke-width="0.35">B</text>
<text x="369.20" y="22.80" font-size="16" font-weight="bold" stroke="#000" stroke-width="0.35">C</text>
<text x="9.80" y="296.00" font-size="16" font-weight="bold" stroke="#000" stroke-width="0.35">D</text>
<text x="187.50" y="296.00" font-size="16" font-weight="bold" stroke="#000" stroke-width="0.35">E</text>
<text x="369.60" y="296.00" font-size="16" font-weight="bold" stroke="#000" stroke-width="0.35">F</text>
<rect x="0" y="0" width="520" height="1.5" fill="#000"/>
<rect x="0" y="0" width="1.5" height="547" fill="#000"/>
<rect x="518.1" y="0" width="1.9" height="547" fill="#000"/>
<rect x="0" y="545.1" width="520" height="1.9" fill="#000"/>
</svg>
</body></html>
